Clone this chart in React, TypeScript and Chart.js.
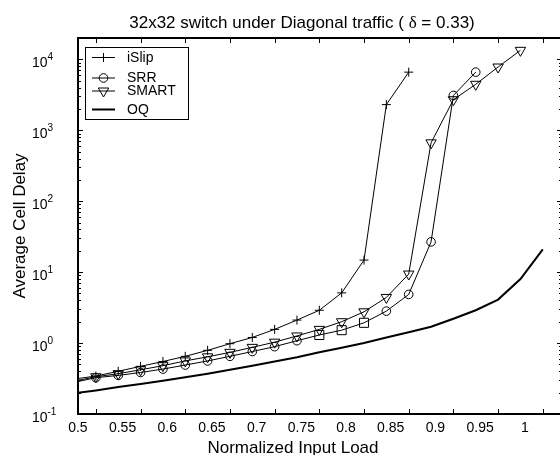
import React, { useEffect, useRef } from 'react';
import { Chart, registerables } from 'chart.js';

Chart.register(...registerables);

// ---- data ----
const loads = [0.475, 0.5, 0.525, 0.55, 0.575, 0.6, 0.625, 0.65, 0.675, 0.7, 0.725, 0.75, 0.775, 0.8, 0.825, 0.85, 0.875, 0.9, 0.925, 0.95, 0.975, 1.0];
const iSlipDelay = [0.31, 0.343, 0.40, 0.47, 0.55, 0.65, 0.79, 0.98, 1.20, 1.56, 2.11, 2.9, 5.1, 14.8, 2300, 6600, null, null, null, null, null, null];
const srrDelay = [0.278, 0.325, 0.35, 0.385, 0.43, 0.49, 0.56, 0.65, 0.76, 0.89, 1.08, 1.30, 1.52, 1.93, 2.82, 4.85, 26.7, 3100, 6600, null, null, null];
const smartDelay = [0.29, 0.335, 0.37, 0.42, 0.48, 0.56, 0.64, 0.74, 0.87, 1.03, 1.26, 1.56, 2.0, 2.76, 4.4, 9.4, 665, 2700, 4450, 7800, 13400, null];
const oqDelay = [0.195, 0.215, 0.24, 0.265, 0.295, 0.33, 0.37, 0.42, 0.48, 0.55, 0.63, 0.74, 0.86, 1.0, 1.2, 1.42, 1.7, 2.2, 2.9, 4.1, 8.0, 21];
const srrSquareLoads = [0.75, 0.775, 0.8];

const xTicks = [0.5, 0.55, 0.6, 0.65, 0.7, 0.75, 0.8, 0.85, 0.9, 0.95, 1.0];
const yTicks = [0.1, 1, 10, 100, 1000, 10000];
const yExponents = ['-1', '0', '1', '2', '3', '4'];
const seriesNames = ['iSlip', 'SRR', 'SMART', 'OQ'];

const titleParts = ['32x32 switch under Diagonal traffic ( ', 'δ', ' = 0.33)'];
const xLabel = 'Normalized Input Load';
const yLabel = 'Average Cell Delay';

const SANS = '"Liberation Sans", Arial, Helvetica, sans-serif';
const SERIF = '"Liberation Serif", "DejaVu Serif", serif';

const toPoints = (vals: (number | null)[]) =>
  loads.map((x, i) => ({ x, y: vals[i] })).filter((p) => p.y !== null);

function drawMarker(ctx: CanvasRenderingContext2D, kind: string, x: number, y: number) {
  ctx.beginPath();
  if (kind === 'cross') {
    ctx.moveTo(x - 4.5, y); ctx.lineTo(x + 4.5, y);
    ctx.moveTo(x, y - 4.5); ctx.lineTo(x, y + 4.5);
  } else if (kind === 'circle') {
    ctx.arc(x, y, 4.3, 0, Math.PI * 2);
  } else if (kind === 'tri') {
    const r = 6;
    ctx.moveTo(x, y + r);
    ctx.lineTo(x + r * Math.sin((2 * Math.PI) / 3), y - r * Math.cos(Math.PI / 3));
    ctx.lineTo(x - r * Math.sin((2 * Math.PI) / 3), y - r * Math.cos(Math.PI / 3));
    ctx.closePath();
  }
  ctx.stroke();
}

const decorPlugin = {
  id: 'decor',
  afterDraw(chart: any) {
    const { ctx, chartArea: a, scales } = chart;
    const xs = scales.x;
    const ys = scales.y;
    ctx.save();
    ctx.strokeStyle = '#000';
    ctx.fillStyle = '#000';

    // tick marks (inward)
    ctx.lineWidth = 1;
    ctx.beginPath();
    for (const v of xTicks) {
      const px = Math.round(xs.getPixelForValue(v)) + 0.5;
      ctx.moveTo(px, a.bottom); ctx.lineTo(px, a.bottom - 5);
      ctx.moveTo(px, a.top); ctx.lineTo(px, a.top + 5);
    }
    for (let e = -1; e <= 4; e++) {
      for (let m = 1; m <= 9; m++) {
        const v = m * Math.pow(10, e);
        if (v < ys.min || v > ys.max) continue;
        const py = Math.round(ys.getPixelForValue(v)) + 0.5;
        const len = m === 1 ? 5 : 3;
        ctx.moveTo(a.left, py); ctx.lineTo(a.left + len, py);
        ctx.moveTo(a.right, py); ctx.lineTo(a.right - len, py);
      }
    }
    ctx.stroke();

    // frame
    ctx.lineWidth = 2;
    ctx.strokeRect(a.left, a.top, a.right - a.left, a.bottom - a.top);

    // y tick labels 10^n
    ctx.textAlign = 'left';
    ctx.textBaseline = 'alphabetic';
    yTicks.forEach((v, i) => {
      const py = ys.getPixelForValue(v);
      ctx.font = `14px ${SANS}`;
      ctx.fillText('10', 32, py + 7.5);
      ctx.font = `10px ${SANS}`;
      ctx.fillText(yExponents[i], 47.5, py + 1);
    });

    // title
    const fonts = [`17px ${SANS}`, `17px ${SERIF}`, `17px ${SANS}`];
    let total = 0;
    const widths = titleParts.map((t, i) => { ctx.font = fonts[i]; const w = ctx.measureText(t).width; total += w; return w; });
    let tx = 302 - total / 2;
    titleParts.forEach((t, i) => { ctx.font = fonts[i]; ctx.fillText(t, tx, 27.5); tx += widths[i]; });

    // x label
    ctx.font = `17px ${SANS}`;
    ctx.textAlign = 'center';
    ctx.fillText(xLabel, 293, 453);

    // y label
    ctx.save();
    ctx.translate(25, (a.top + a.bottom) / 2);
    ctx.rotate(-Math.PI / 2);
    ctx.fillText(yLabel, 0, 0);
    ctx.restore();

    // legend
    const bx = 85.5, by = 47.5, bw = 103, bh = 72;
    ctx.fillStyle = '#fff';
    ctx.fillRect(bx, by, bw, bh);
    ctx.fillStyle = '#000';
    ctx.lineWidth = 1;
    ctx.strokeRect(bx, by, bw, bh);
    const rows = [57.5, 78, 91, 109.5];
    const kinds = ['cross', 'circle', 'tri', 'none'];
    ctx.font = `14px ${SANS}`;
    ctx.textAlign = 'left';
    ctx.textBaseline = 'middle';
    seriesNames.forEach((name, i) => {
      const y = rows[i];
      ctx.lineWidth = i === 3 ? 2 : 1;
      ctx.beginPath();
      ctx.moveTo(92, y); ctx.lineTo(115, y);
      ctx.stroke();
      ctx.lineWidth = 1;
      if (kinds[i] !== 'none') drawMarker(ctx, kinds[i], 103.5, y);
      ctx.fillText(name, 127, y + 0.5);
    });

    ctx.restore();
  },
};

export default function App() {
  const canvasRef = useRef<HTMLCanvasElement | null>(null);

  useEffect(() => {
    const canvas = canvasRef.current;
    if (!canvas) return;
    const hideFirst = (c: any) => (c.raw && c.raw.x < 0.49 ? 0 : undefined);
    const chart = new Chart(canvas, {
      type: 'line',
      data: {
        datasets: [
          {
            label: seriesNames[0],
            data: toPoints(iSlipDelay),
            borderColor: '#000',
            borderWidth: 1,
            pointStyle: 'cross',
            pointRadius: (c: any) => hideFirst(c) ?? 4.5,
            pointBorderColor: '#000',
            pointBackgroundColor: 'transparent',
            pointBorderWidth: 1,
          },
          {
            label: seriesNames[1],
            data: toPoints(srrDelay),
            borderColor: '#000',
            borderWidth: 1,
            pointStyle: (c: any) => (c.raw && srrSquareLoads.includes(c.raw.x) ? 'rect' : 'circle'),
            pointRadius: (c: any) => hideFirst(c) ?? (c.raw && srrSquareLoads.includes(c.raw.x) ? 6.4 : 4.3),
            pointBorderColor: '#000',
            pointBackgroundColor: 'transparent',
            pointBorderWidth: 1,
          },
          {
            label: seriesNames[2],
            data: toPoints(smartDelay),
            borderColor: '#000',
            borderWidth: 1,
            pointStyle: 'triangle',
            pointRotation: 180,
            pointRadius: (c: any) => hideFirst(c) ?? 6,
            pointBorderColor: '#000',
            pointBackgroundColor: 'transparent',
            pointBorderWidth: 1,
          },
          {
            label: seriesNames[3],
            data: toPoints(oqDelay),
            borderColor: '#000',
            borderWidth: 2,
            pointRadius: 0,
          },
        ],
      },
      options: {
        animation: false,
        responsive: false,
        events: [],
        layout: { padding: { left: 0, top: 38, right: 18, bottom: 0 } },
        plugins: { legend: { display: false }, title: { display: false }, tooltip: { enabled: false } },
        elements: { line: { tension: 0 } },
        scales: {
          x: {
            type: 'linear',
            min: 0.48,
            max: 1.0215,
            grid: { display: false, drawTicks: false },
            border: { display: false },
            afterBuildTicks: (s: any) => { s.ticks = xTicks.map((v) => ({ value: v })); },
            afterFit: (s: any) => { s.height = 41; },
            ticks: {
              autoSkip: false,
              maxRotation: 0,
              minRotation: 0,
              labelOffset: -18,
              padding: 5.5,
              color: '#000',
              font: { family: SANS, size: 14 },
              callback: (v: any) => String(Number(Number(v).toFixed(2))),
            },
          },
          y: {
            type: 'logarithmic',
            min: 0.1,
            max: 20000,
            grid: { display: false, drawTicks: false },
            border: { display: false },
            afterBuildTicks: (s: any) => { s.ticks = yTicks.map((v) => ({ value: v })); },
            afterFit: (s: any) => { s.width = 78; },
            ticks: { display: false },
          },
        },
      },
      plugins: [decorPlugin],
    } as any);
    return () => chart.destroy();
  }, []);

  return (
    <div style={{ position: 'fixed', left: 0, top: 0, width: 560, height: 455, overflow: 'hidden', background: '#fff' }}>
      <canvas ref={canvasRef} width={580} height={455} style={{ display: 'block' }} />
    </div>
  );
}
